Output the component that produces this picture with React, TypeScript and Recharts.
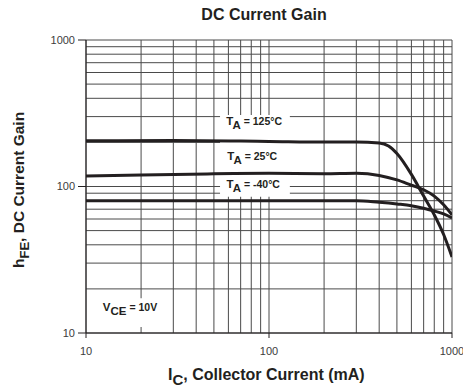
import React from "react";
import {
  LineChart,
  Line,
  XAxis,
  YAxis,
  ReferenceLine,
  ReferenceArea,
  ReferenceDot,
} from "recharts";

const FONT = "'Liberation Sans', Arial, Helvetica, sans-serif";
const INK = "#231f20";

// grid lines (log decades with minor lines)
const X_GRID = [10, 20, 30, 40, 50, 60, 70, 80, 90, 100, 200, 300, 400, 500, 600, 700, 800, 900, 1000];
const Y_GRID = [10, 20, 30, 40, 50, 60, 70, 80, 90, 100, 200, 300, 400, 500, 600, 700, 800, 900, 1000];
const X_TICKS = [10, 100, 1000];
const Y_TICKS = [10, 100, 1000];

// hFE vs Ic (mA)
const T125 = [
  { ic: 10, h: 205 },
  { ic: 30, h: 206 },
  { ic: 100, h: 203 },
  { ic: 200, h: 201 },
  { ic: 300, h: 201 },
  { ic: 400, h: 198 },
  { ic: 450, h: 189 },
  { ic: 500, h: 168 },
  { ic: 600, h: 121 },
  { ic: 700, h: 86 },
  { ic: 800, h: 64 },
  { ic: 900, h: 47 },
  { ic: 1000, h: 33 },
];
const T25 = [
  { ic: 10, h: 118 },
  { ic: 20, h: 120 },
  { ic: 50, h: 122 },
  { ic: 100, h: 123 },
  { ic: 200, h: 122 },
  { ic: 300, h: 123 },
  { ic: 400, h: 119 },
  { ic: 500, h: 111 },
  { ic: 600, h: 102 },
  { ic: 700, h: 95 },
  { ic: 800, h: 86 },
  { ic: 900, h: 75 },
  { ic: 1000, h: 64 },
];
const TM40 = [
  { ic: 10, h: 80 },
  { ic: 100, h: 80 },
  { ic: 300, h: 80 },
  { ic: 400, h: 78 },
  { ic: 500, h: 76 },
  { ic: 600, h: 74 },
  { ic: 700, h: 71 },
  { ic: 800, h: 68 },
  { ic: 900, h: 65 },
  { ic: 1000, h: 61 },
];

// curve labels: [ic, hFE, main, subscript, rest]
const LABELS: [number, number, string, string, string][] = [
  [83, 280, "T", "A", " = 125°C"],
  [81, 161, "T", "A", " = 25°C"],
  [82, 103.5, "T", "A", " = -40°C"],
  [17.4, 15.1, "V", "CE", " = 10V"],
];

function LabelShape(props: any, main: string, sub: string, rest: string) {
  const { cx, cy } = props;
  return (
    <text x={cx} y={cy + 4} textAnchor="middle" fontFamily={FONT} fontWeight="bold" fill={INK}>
      <tspan fontSize={11.5}>{main}</tspan>
      <tspan fontSize={11.5} dy={4}>{sub}</tspan>
      <tspan fontSize={10.5} dy={-4}>{rest}</tspan>
    </text>
  );
}

const tickStyle = { fontSize: 11, fill: "#3c3c3c", fontFamily: FONT };

export default function App() {
  return (
    <div style={{ position: "absolute", left: 0, top: 0, width: 463, height: 390, background: "#fff" }}>
      <LineChart width={463} height={390} margin={{ top: 40, right: 11, left: 0, bottom: 0 }}>
        <XAxis
          type="number"
          dataKey="ic"
          scale="log"
          domain={[10, 1000]}
          ticks={X_TICKS}
          allowDataOverflow
          height={57}
          tick={tickStyle}
          tickSize={5}
          tickMargin={9}
          stroke={INK}
          tickLine={{ stroke: INK }}
        />
        <YAxis
          type="number"
          dataKey="h"
          scale="log"
          domain={[10, 1000]}
          ticks={Y_TICKS}
          allowDataOverflow
          width={86}
          tick={tickStyle}
          tickSize={8}
          tickMargin={3}
          stroke={INK}
          tickLine={{ stroke: INK }}
        />
        {X_GRID.map((v) => (
          <ReferenceLine key={"x" + v} x={v} stroke="#4a4a4a" strokeWidth={1} zIndex={-100} />
        ))}
        {Y_GRID.map((v) => (
          <ReferenceLine key={"y" + v} y={v} stroke="#4a4a4a" strokeWidth={1} zIndex={-100} />
        ))}
        <ReferenceArea x1={54} x2={130} y1={85} y2={308} fill="#fff" fillOpacity={1} stroke="none" zIndex={-50} />
        <ReferenceArea x1={11.3} x2={27} y1={11} y2={17.3} fill="#fff" fillOpacity={1} stroke="none" zIndex={-50} />
        <Line data={T125} dataKey="h" type="monotone" stroke={INK} strokeWidth={3} dot={false} isAnimationActive={false} zIndex={400} />
        <Line data={T25} dataKey="h" type="monotone" stroke={INK} strokeWidth={3} dot={false} isAnimationActive={false} zIndex={400} />
        <Line data={TM40} dataKey="h" type="monotone" stroke={INK} strokeWidth={3} dot={false} isAnimationActive={false} zIndex={400} />
        {LABELS.map(([x, y, m, s, r]) => (
          <ReferenceDot
            key={m + s + r}
            x={x}
            y={y}
            r={0}
            zIndex={2000}
            shape={(p: any) => LabelShape(p, m, s, r)}
          />
        ))}
      </LineChart>
      <svg width={463} height={390} style={{ position: "absolute", left: 0, top: 0, pointerEvents: "none" }}>
        <text x={264} y={20} textAnchor="middle" fontFamily={FONT} fontWeight="bold" fontSize={16} fill={INK}>
          DC Current Gain
        </text>
        <text x={168} y={379.5} textAnchor="start" fontFamily={FONT} fontWeight="bold" fontSize={16} fill={INK}>
          <tspan>I</tspan>
          <tspan fontSize={15} dy={5}>C</tspan>
          <tspan dy={-5}>, Collector Current (mA)</tspan>
        </text>
        <text
          x={0}
          y={0}
          transform="translate(23.5,268) rotate(-90)"
          textAnchor="start"
          fontFamily={FONT}
          fontWeight="bold"
          fontSize={15.5}
          fill={INK}
        >
          <tspan>h</tspan>
          <tspan fontSize={13} dy={5}>FE</tspan>
          <tspan dy={-5}>, DC Current Gain</tspan>
        </text>
      </svg>
    </div>
  );
}
